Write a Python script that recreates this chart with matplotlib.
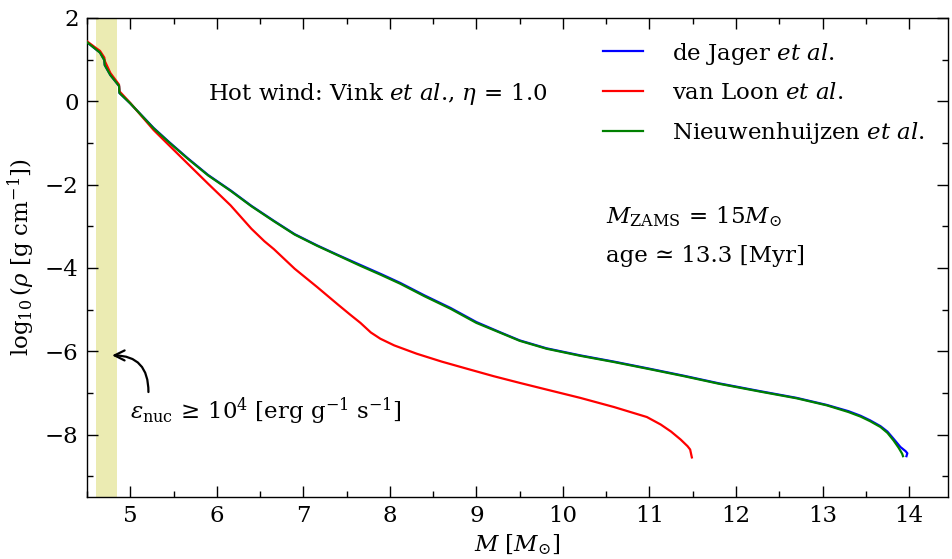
import matplotlib
matplotlib.use("Agg")
import matplotlib.pyplot as plt
from matplotlib.ticker import MultipleLocator

plt.rcParams["font.family"] = ["DejaVu Serif"]
plt.rcParams["mathtext.fontset"] = "dejavuserif"
plt.rcParams["font.size"] = 16.5

# Enclosed mass coordinate [Msun] and log10 density for three cool-wind prescriptions
m_jager = [4.50, 4.59, 4.65, 4.70, 4.705, 4.77, 4.87, 4.875, 5.00, 5.27, 5.45, 5.66, 5.90,
           6.16, 6.40, 6.66, 6.90, 7.16, 7.40, 7.66, 7.90, 8.12, 8.40, 8.70, 9.00, 9.28,
           9.50, 9.81, 10.20, 10.59, 11.00, 11.40, 11.80, 12.28, 12.70, 13.05, 13.30,
           13.44, 13.55, 13.67, 13.75, 13.82, 13.90, 13.96, 13.98, 13.97]
rho_jager = [1.42, 1.27, 1.17, 0.99, 0.87, 0.63, 0.37, 0.20, -0.05, -0.64, -0.98, -1.36, -1.77,
             -2.14, -2.51, -2.87, -3.19, -3.46, -3.69, -3.93, -4.15, -4.36, -4.66, -4.96, -5.30,
             -5.55, -5.74, -5.93, -6.10, -6.25, -6.42, -6.59, -6.77, -6.96, -7.12, -7.29, -7.44,
             -7.55, -7.66, -7.80, -7.93, -8.10, -8.30, -8.40, -8.45, -8.52]

m_loon = [4.50, 4.59, 4.65, 4.70, 4.705, 4.77, 4.87, 4.875, 5.00, 5.27, 5.45, 5.66, 5.90,
          6.16, 6.40, 6.55, 6.66, 6.90, 7.16, 7.40, 7.54, 7.66, 7.78, 7.89, 8.05, 8.31,
          8.60, 8.89, 9.20, 9.50, 9.81, 10.20, 10.59, 10.97, 11.13, 11.25, 11.36, 11.44,
          11.47, 11.49]
rho_loon = [1.44, 1.30, 1.21, 1.05, 0.97, 0.68, 0.40, 0.24, -0.04, -0.69, -1.06, -1.49, -1.98,
            -2.50, -3.06, -3.36, -3.55, -4.02, -4.46, -4.88, -5.12, -5.32, -5.55, -5.70, -5.86,
            -6.06, -6.25, -6.42, -6.60, -6.76, -6.92, -7.12, -7.34, -7.58, -7.76, -7.93, -8.12,
            -8.28, -8.36, -8.55]

m_nieuw = [4.50, 4.59, 4.65, 4.70, 4.705, 4.77, 4.87, 4.875, 5.00, 5.27, 5.45, 5.66, 5.90,
           6.16, 6.40, 6.66, 6.90, 7.16, 7.40, 7.66, 7.90, 8.12, 8.40, 8.70, 9.00, 9.28,
           9.50, 9.81, 10.20, 10.59, 11.00, 11.40, 11.80, 12.28, 12.70, 13.05, 13.30,
           13.44, 13.55, 13.67, 13.75, 13.82, 13.88, 13.92, 13.93]
rho_nieuw = [1.42, 1.27, 1.17, 0.99, 0.87, 0.63, 0.37, 0.20, -0.05, -0.65, -0.99, -1.37, -1.78,
             -2.15, -2.52, -2.88, -3.20, -3.47, -3.70, -3.95, -4.17, -4.38, -4.68, -4.98, -5.32,
             -5.56, -5.75, -5.94, -6.11, -6.26, -6.43, -6.60, -6.78, -6.97, -7.13, -7.30, -7.46,
             -7.57, -7.68, -7.82, -7.96, -8.14, -8.32, -8.46, -8.52]

labels = [r"de Jager $\mathit{et\ al.}$", r"van Loon $\mathit{et\ al.}$",
          r"Nieuwenhuijzen $\mathit{et\ al.}$"]

# Mass range where nuclear energy generation exceeds 1e4 erg/g/s
burn_lo, burn_hi = 4.6, 4.85

fig = plt.figure(figsize=(9.52, 5.59), dpi=100)
ax = fig.add_axes([87 / 952, 1 - 497 / 559, (948 - 87) / 952, (497 - 18) / 559])

ax.axvspan(burn_lo, burn_hi, color="y", alpha=0.3, lw=0, zorder=0)

l1, = ax.plot(m_jager, rho_jager, color="b", lw=1.6, label=labels[0], zorder=2)
l2, = ax.plot(m_loon, rho_loon, color="r", lw=1.6, label=labels[1], zorder=3)
l3, = ax.plot(m_nieuw, rho_nieuw, color="g", lw=1.6, label=labels[2], zorder=4)

ax.set_xlim(4.5, 14.45)
ax.set_ylim(-9.5, 2)
ax.xaxis.set_major_locator(MultipleLocator(1))
ax.xaxis.set_minor_locator(MultipleLocator(0.5))
ax.yaxis.set_major_locator(MultipleLocator(2))
ax.yaxis.set_minor_locator(MultipleLocator(1))
ax.tick_params(which="both", direction="in", top=True, right=True, width=1)
ax.tick_params(which="major", length=8, pad=6)
ax.tick_params(which="minor", length=4)
for s in ax.spines.values():
    s.set_linewidth(1)

ax.set_xlabel(r"$M\ [M_{\odot}]$", labelpad=4)
ax.set_ylabel(r"$\log_{10}(\rho\ [{\rm g\ cm^{-1}}])$", labelpad=6)

ax.legend(handles=[l1, l2, l3], loc="upper left", bbox_to_anchor=(0.599, 0.953),
          frameon=False, borderpad=0, borderaxespad=0, handlelength=1.75,
          handletextpad=1.27, labelspacing=0.69, fontsize=16.5)

ax.text(5.9, 0.04, r"Hot wind: Vink $\mathit{et\ al}$., $\eta\,=\,1.0$",
        ha="left", va="baseline")
ax.text(10.5, -2.93, r"$M_{\rm ZAMS}\,=\,15M_{\odot}$", ha="left", va="baseline")
ax.text(10.5, -3.87, "age \u2243 13.3 [Myr]", ha="left", va="baseline")
ax.text(5.0, -7.62, r"$\varepsilon_{\rm nuc}\,\geq\,10^4\ [{\rm erg\ g^{-1}\ s^{-1}}]$",
        ha="left", va="baseline")
ax.annotate("", xy=(4.79, -6.10), xytext=(5.21, -6.98),
            arrowprops=dict(arrowstyle="->", color="k", lw=1.6,
                            connectionstyle="arc3,rad=0.5", shrinkA=0, shrinkB=0,
                            mutation_scale=18))

fig.savefig("out.png", dpi=100)
